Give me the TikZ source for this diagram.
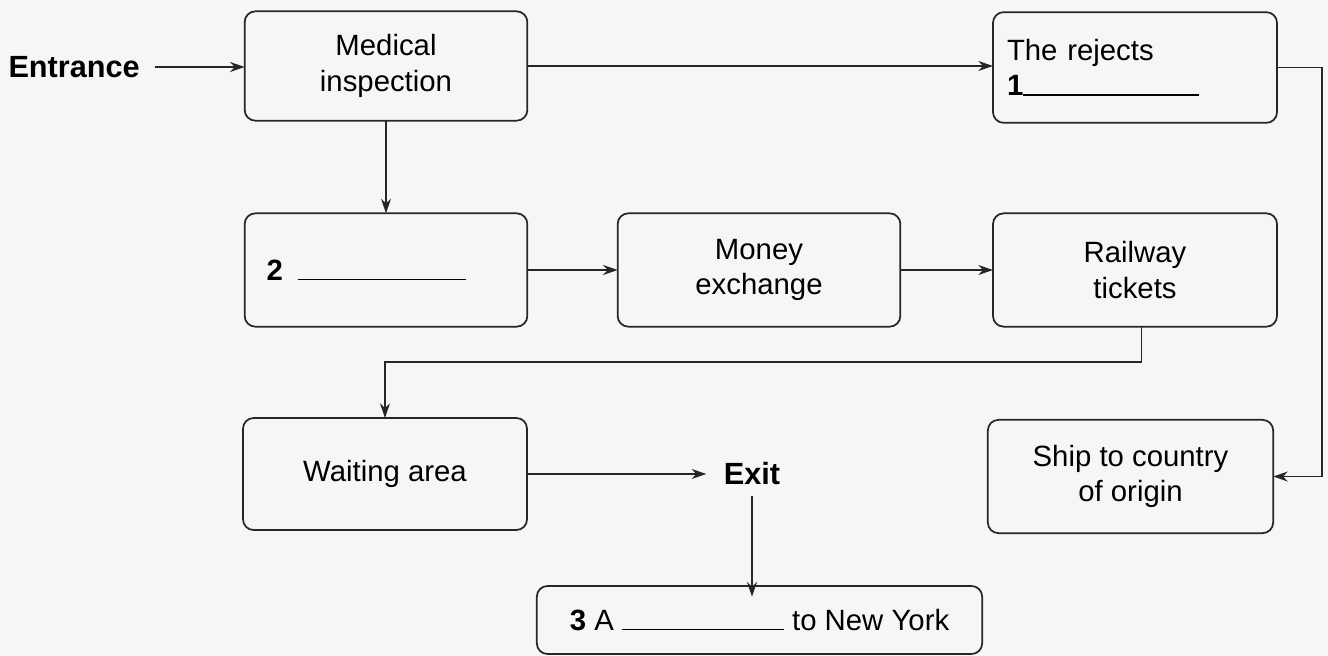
\documentclass[tikz,border=0pt]{standalone}
\usepackage{fontspec}
\setmainfont{Liberation Sans}
\usetikzlibrary{arrows.meta,calc}
\begin{document}
\begin{tikzpicture}[x=0.75pt,y=-0.75pt,
  box/.style={draw=black!85,line width=1.3pt,rounded corners=8pt,inner sep=0pt,outer sep=0pt,
    minimum width=212pt,minimum height=85pt,align=center,font=\fontsize{22}{26.5}\selectfont},
  lbl/.style={inner sep=0pt,font=\fontsize{23}{27}\selectfont\bfseries},
  arr/.style={draw=black!85,line width=1.1pt,-{Stealth[length=11pt,width=7.5pt]}},
  ln/.style={draw=black!85,line width=1pt}]
\fill[fill={rgb,255:red,246;green,246;blue,244}] (0,0) rectangle (1328,656);
\useasboundingbox (0,0) rectangle (1328,656);
\node[box,minimum height=82pt] (med) at (386,66) {Medical\\inspection};
\node[box,minimum width=213pt,minimum height=83pt,text width=192pt,align=left] (rej) at (1135,67.5) {The rejects\\\textbf{1}\rule{132pt}{1pt}};
\node[box,text width=179pt,align=left] (b2) at (386,270) {\textbf{2}\hspace{0.5em}\rule{126pt}{1pt}};
\node[box] (money) at (759,270) {Money\\exchange};
\node[box,minimum width=213pt] (rail) at (1135,270) {Railway\\tickets};
\node[box,minimum width=213pt,minimum height=84pt] (wait) at (385,474) {Waiting area};
\node[box,minimum width=214pt] (ship) at (1130.5,476.5) {Ship to country\\of origin};
\node[box,minimum width=334pt,minimum height=51pt] (ny) at (759.5,620) {\textbf{3} A \rule{121.5pt}{1pt} to New York};
\node[lbl,anchor=east] (entr) at (140,67) {Entrance};
\node[lbl] (exit) at (752,474) {Exit};
\coordinate (rc) at (1322,0);
\coordinate (turn) at (0,362);
\draw[arr] ([xshift=11pt]entr.east) -- (entr.east -| med.west);
\draw[arr] (med.east) -- (med.east -| rej.west);
\draw[arr] (rej.east) -- (rej.east -| rc) |- (ship.east);
\draw[arr] (med.south) -- (b2.north);
\draw[arr] (b2.east) -- (money.west);
\draw[arr] (money.east) -- (rail.west);
\draw[arr] ([xshift=5pt]rail.south) -- ([xshift=5pt]rail.south |- turn) -| (wait.north);
\draw[arr] (wait.east) -- ([xshift=-13pt]exit.west);
\draw[arr] ([yshift=-8pt]exit.south) -- ([yshift=-8pt]exit.south |- ny.north);
\end{tikzpicture}
\end{document}
